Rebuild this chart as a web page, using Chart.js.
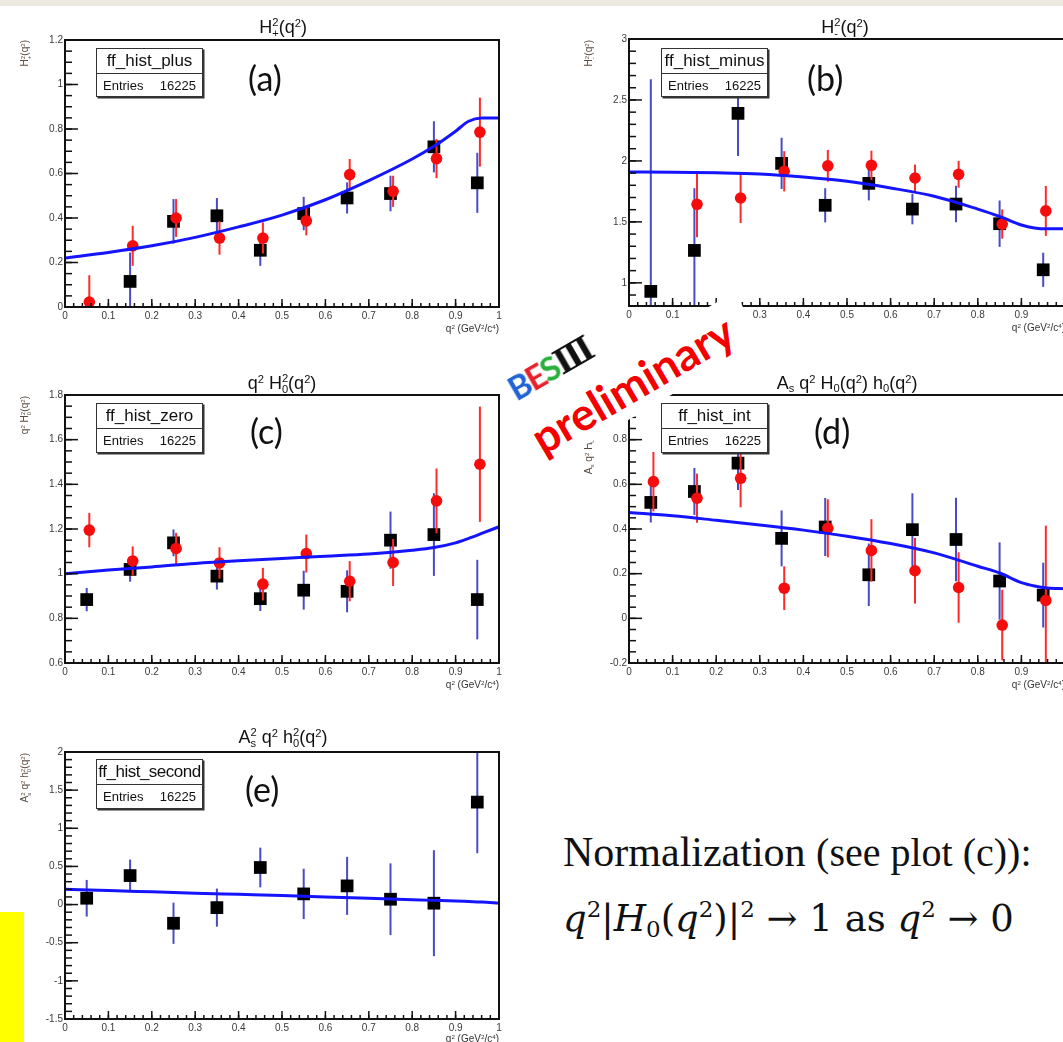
<!DOCTYPE html>
<html>
<head>
<meta charset="utf-8">
<script src="https://cdn.jsdelivr.net/npm/chart.js@4.4.1/dist/chart.umd.min.js"></script>
<style>
  body { margin: 0; width: 1063px; height: 1042px; overflow: hidden; background: #fff; position: relative; font-family: "Liberation Sans", Arial, sans-serif; }
  #topbar { position: absolute; left: 0; top: 0; width: 1063px; height: 6px; background: #ece9e0; }
  #yellow { position: absolute; left: 0; top: 912px; width: 24px; height: 130px; background: #ffff00; }
  canvas { position: absolute; }
  .title { position: absolute; font-size: 18px; line-height: 22px; color: #111; white-space: nowrap; transform: translateX(-50%); }
  .ss { display: inline-block; vertical-align: -0.35em; font-size: 0.62em; line-height: 0.95; text-align: left; }
  .ss i { display: block; font-style: normal; }
  .up { font-size: 0.62em; vertical-align: 0.55em; }
  .dn { font-size: 0.62em; vertical-align: -0.3em; }
  .ytitle { position: absolute; left: 0; top: 0; font-size: 10px; line-height: 12px; color: #5a4c40; white-space: nowrap; transform-origin: 0 0; }
  .xtitle { position: absolute; font-size: 10px; line-height: 12px; color: #333; white-space: nowrap; transform: translateX(-100%); }
  .stats { position: absolute; background: #fff; border: 1.5px solid #333; box-shadow: 1.5px 1.5px 0 #333; box-sizing: border-box; z-index: 5; }
  .sname { height: 24px; border-bottom: 1px solid #333; font-size: 17px; line-height: 24px; text-align: center; color: #111; white-space: nowrap; overflow: hidden; }
  .sent { display: flex; justify-content: space-between; padding: 0 6px; font-size: 13px; line-height: 23px; color: #111; }
  .plabel { position: absolute; font-family: Lato, sans-serif; font-size: 34px; line-height: 34px; color: #111; }
  #prelim { position: absolute; left: 498px; top: 356px; width: 269px; height: 57px; background: #fff; transform: rotate(-30.3deg); z-index: 4;
            font-family: Lato, sans-serif; font-weight: 700; font-size: 45px; line-height: 57px; color: #f40000; text-align: center; }
  #logo { position: absolute; left: 503px; top: 344px; width: 106px; height: 40px; transform: rotate(-30deg); z-index: 4; white-space: nowrap;
          font-family: Lato, sans-serif; font-weight: 700; font-size: 33px; line-height: 40px; letter-spacing: -2px; }
  #note { position: absolute; left: 563px; top: 831px; color: #111; white-space: nowrap; }
  #note .l1 { font-family: "Liberation Serif", "Times New Roman", serif; font-size: 42px; line-height: 42px; }
  #note .l1 span { font-size: 40px; }
  #note .l2 { font-family: "DejaVu Serif", serif; font-size: 37px; line-height: 38px; margin-top: 26px; }
  #note sup { font-size: 0.62em; vertical-align: 0.6em; line-height: 0; }
  #note sub { font-size: 0.62em; vertical-align: -0.25em; line-height: 0; }
</style>
</head>
<body>
<div id="topbar"></div>
<div id="yellow"></div>

<canvas id="chartA"></canvas>
<canvas id="chartB"></canvas>
<canvas id="chartC"></canvas>
<canvas id="chartD"></canvas>
<canvas id="chartE"></canvas>

<div class="title" style="left:283px;top:12px">H<span class="ss"><i>2</i><i>+</i></span>(q<span class="up">2</span>)</div>
<div class="title" style="left:845px;top:12px">H<span class="ss"><i>2</i><i>-</i></span>(q<span class="up">2</span>)</div>
<div class="title" style="left:282px;top:368px">q<span class="up">2</span> H<span class="ss"><i>2</i><i>0</i></span>(q<span class="up">2</span>)</div>
<div class="title" style="left:847px;top:368px">A<span class="dn">s</span> q<span class="up">2</span> H<span class="dn">0</span>(q<span class="up">2</span>) h<span class="dn">0</span>(q<span class="up">2</span>)</div>
<div class="title" style="left:283px;top:722px">A<span class="ss"><i>2</i><i>s</i></span> q<span class="up">2</span> h<span class="ss"><i>2</i><i>0</i></span>(q<span class="up">2</span>)</div>

<div class="ytitle" style="transform:translate(17px,40px) rotate(-90deg) translateX(-100%)">H<span class="ss"><i>2</i><i>+</i></span>(q<span class="up">2</span>)</div>
<div class="ytitle" style="transform:translate(581px,40px) rotate(-90deg) translateX(-100%)">H<span class="ss"><i>2</i><i>-</i></span>(q<span class="up">2</span>)</div>
<div class="ytitle" style="transform:translate(17px,396px) rotate(-90deg) translateX(-100%)">q<span class="up">2</span> H<span class="ss"><i>2</i><i>0</i></span>(q<span class="up">2</span>)</div>
<div class="ytitle" style="transform:translate(581px,396px) rotate(-90deg) translateX(-100%)">A<span class="dn">s</span> q<span class="up">2</span> H<span class="dn">0</span>(q<span class="up">2</span>) h<span class="dn">0</span>(q<span class="up">2</span>)</div>
<div class="ytitle" style="transform:translate(17px,753px) rotate(-90deg) translateX(-100%)">A<span class="ss"><i>2</i><i>s</i></span> q<span class="up">2</span> h<span class="ss"><i>2</i><i>0</i></span>(q<span class="up">2</span>)</div>

<div class="xtitle" style="left:499px;top:321px">q<span class="up">2</span> (GeV<span class="up">2</span>/c<span class="up">4</span>)</div>
<div class="xtitle" style="left:1065px;top:320px">q<span class="up">2</span> (GeV<span class="up">2</span>/c<span class="up">4</span>)</div>
<div class="xtitle" style="left:499px;top:677px">q<span class="up">2</span> (GeV<span class="up">2</span>/c<span class="up">4</span>)</div>
<div class="xtitle" style="left:1065px;top:677px">q<span class="up">2</span> (GeV<span class="up">2</span>/c<span class="up">4</span>)</div>
<div class="xtitle" style="left:499px;top:1031px">q<span class="up">2</span> (GeV<span class="up">2</span>/c<span class="up">4</span>)</div>

<div class="stats" style="left:96px;top:48px;width:107px;height:49px"><div class="sname">ff_hist_plus</div><div class="sent"><span>Entries</span><span>16225</span></div></div>
<div class="stats" style="left:661px;top:48px;width:107px;height:49px"><div class="sname">ff_hist_minus</div><div class="sent"><span>Entries</span><span>16225</span></div></div>
<div class="stats" style="left:96px;top:403px;width:107px;height:50px"><div class="sname">ff_hist_zero</div><div class="sent"><span>Entries</span><span>16225</span></div></div>
<div class="stats" style="left:661px;top:403px;width:107px;height:50px"><div class="sname">ff_hist_int</div><div class="sent"><span>Entries</span><span>16225</span></div></div>
<div class="stats" style="left:96px;top:759px;width:107px;height:50px"><div class="sname" style="letter-spacing:-0.5px">ff_hist_second</div><div class="sent"><span>Entries</span><span>16225</span></div></div>

<div class="plabel" style="left:248px;top:61px">(a)</div>
<div class="plabel" style="left:807px;top:61px">(b)</div>
<div class="plabel" style="left:250px;top:414px">(c)</div>
<div class="plabel" style="left:814px;top:414px">(d)</div>
<div class="plabel" style="left:245px;top:772px">(e)</div>

<div id="logo"><span style="color:#1f63d6">B</span><span style="color:#e8202a">E</span><span style="color:#27b03a">S</span><span style="color:#111;font-family:'DejaVu Serif',serif;letter-spacing:0">Ⅲ</span></div>
<div id="prelim">preliminary</div>

<div id="note">
  <div class="l1">Normalization <span>(see plot (c)):</span></div>
  <div class="l2"><i>q</i><sup>2</sup>|<i>H</i><sub>0</sub>(<i>q</i><sup>2</sup>)|<sup>2</sup> → 1 as <i>q</i><sup>2</sup> → 0</div>
</div>

<script>
// bin centres and tick labels
const xBins = [0.05, 0.15, 0.25, 0.35, 0.45, 0.55, 0.65, 0.75, 0.85, 0.95];
const redBins = [0.056, 0.156, 0.256, 0.356, 0.456, 0.556, 0.656, 0.756, 0.856, 0.956];
const curveX = [0, 0.1, 0.2, 0.3, 0.4, 0.5, 0.6, 0.7, 0.8, 0.85, 0.9, 0.93, 0.96, 1];
const xTicks = [0, 0.1, 0.2, 0.3, 0.4, 0.5, 0.6, 0.7, 0.8, 0.9, 1];

// (a) ff_hist_plus
const plusBlack = [null, 0.115, 0.385, 0.41, 0.255, 0.42, 0.49, 0.51, 0.72, 0.558];
const plusBlackErr = [0, 0.13, 0.1, 0.08, 0.07, 0.075, 0.07, 0.08, 0.115, 0.135];
const plusRed = [0.0225, 0.275, 0.4, 0.31, 0.31, 0.387, 0.595, 0.52, 0.667, 0.786];
const plusRedErr = [0.12, 0.09, 0.085, 0.075, 0.07, 0.065, 0.07, 0.07, 0.088, 0.155];
const plusCurve = [0.22, 0.245, 0.275, 0.313, 0.36, 0.413, 0.482, 0.568, 0.665, 0.722, 0.79, 0.835, 0.85, 0.85];
const plusTicks = [0, 0.2, 0.4, 0.6, 0.8, 1, 1.2];

// (b) ff_hist_minus
const minusBlack = [0.93, 1.266, 2.39, 1.98, 1.636, 1.816, 1.605, 1.646, 1.485, 1.107];
const minusBlackErr = [1.74, 0.51, 0.35, 0.21, 0.14, 0.14, 0.125, 0.15, 0.19, 0.14];
const minusRed = [null, 1.644, 1.696, 1.915, 1.96, 1.964, 1.86, 1.89, 1.482, 1.59];
const minusRedErr = [0, 0.27, 0.205, 0.165, 0.13, 0.12, 0.11, 0.11, 0.12, 0.205];
const minusCurve = [1.91, 1.908, 1.903, 1.893, 1.868, 1.833, 1.778, 1.71, 1.605, 1.545, 1.474, 1.45, 1.443, 1.443];
const minusTicks = [1, 1.5, 2, 2.5, 3];

// (c) ff_hist_zero
const zeroBlack = [0.884, 1.019, 1.138, 0.989, 0.888, 0.926, 0.921, 1.15, 1.175, 0.884];
const zeroBlackErr = [0.052, 0.055, 0.06, 0.06, 0.055, 0.087, 0.094, 0.128, 0.185, 0.178];
const zeroRed = [1.195, 1.057, 1.113, 1.048, 0.953, 1.09, 0.966, 1.05, 1.326, 1.49];
const zeroRedErr = [0.077, 0.065, 0.07, 0.07, 0.073, 0.085, 0.09, 0.105, 0.145, 0.258];
const zeroCurve = [1.0, 1.016, 1.03, 1.046, 1.058, 1.068, 1.078, 1.088, 1.105, 1.117, 1.138, 1.158, 1.18, 1.21];
const zeroTicks = [0.6, 0.8, 1, 1.2, 1.4, 1.6, 1.8];

// (d) ff_hist_int
const intBlack = [0.519, 0.568, 0.695, 0.358, 0.409, 0.195, 0.397, 0.353, 0.167, 0.104];
const intBlackErr = [0.09, 0.105, 0.12, 0.125, 0.13, 0.14, 0.163, 0.187, 0.173, 0.145];
const intRed = [0.612, 0.538, 0.627, 0.135, 0.403, 0.304, 0.213, 0.138, -0.03, 0.08];
const intRedErr = [0.133, 0.11, 0.13, 0.098, 0.13, 0.14, 0.147, 0.158, 0.158, 0.335];
const intCurve = [0.474, 0.459, 0.439, 0.418, 0.395, 0.368, 0.335, 0.293, 0.233, 0.203, 0.16, 0.145, 0.136, 0.132];
const intTicks = [-0.2, 0, 0.2, 0.4, 0.6, 0.8, 1];

// (e) ff_hist_second
const secondBlack = [0.083, 0.38, -0.245, -0.04, 0.486, 0.14, 0.245, 0.07, 0.018, 1.343];
const secondBlackErr = [0.24, 0.21, 0.27, 0.25, 0.26, 0.33, 0.38, 0.47, 0.695, 0.67];
const secondCurve = [0.2, 0.184, 0.167, 0.15, 0.134, 0.118, 0.1, 0.082, 0.064, 0.055, 0.046, 0.04, 0.034, 0.02];
const secondTicks = [-1.5, -1, -0.5, 0, 0.5, 1, 1.5, 2];

// ROOT look: error bars, frame, inward ticks
const rootFrame = {
  id: "rootFrame",
  beforeDatasetDraw(chart, args) {
    const ds = chart.data.datasets[args.index];
    if (!ds.errors) return;
    const { ctx, chartArea: a, scales: { x, y } } = chart;
    ctx.save();
    ctx.beginPath();
    ctx.rect(a.left, a.top, a.right - a.left, a.bottom - a.top);
    ctx.clip();
    ctx.strokeStyle = ds.errorColor;
    ctx.lineWidth = 2;
    ds.data.forEach((p, i) => {
      if (p.y == null) return;
      const px = x.getPixelForValue(p.x);
      ctx.beginPath();
      ctx.moveTo(px, y.getPixelForValue(p.y - ds.errors[i]));
      ctx.lineTo(px, y.getPixelForValue(p.y + ds.errors[i]));
      ctx.stroke();
    });
    ctx.restore();
  },
  afterDatasetsDraw(chart, args, opts) {
    const { ctx, chartArea: a, scales: { x, y } } = chart;
    ctx.save();
    ctx.strokeStyle = "#111";
    ctx.lineWidth = 1.5;
    // minor ticks
    const n0 = Math.ceil(y.min / opts.yMinor - 1e-6), n1 = Math.floor(y.max / opts.yMinor + 1e-6);
    for (let n = n0; n <= n1; n++) {
      const py = y.getPixelForValue(n * opts.yMinor);
      ctx.beginPath(); ctx.moveTo(a.left, py); ctx.lineTo(a.left + 7, py); ctx.stroke();
    }
    for (let n = 0; n <= 50; n++) {
      const px = x.getPixelForValue(n * 0.02);
      ctx.beginPath(); ctx.moveTo(px, a.bottom); ctx.lineTo(px, a.bottom - 4); ctx.stroke();
    }
    // major ticks
    y.ticks.forEach((t) => {
      const py = y.getPixelForValue(t.value);
      ctx.beginPath(); ctx.moveTo(a.left, py); ctx.lineTo(a.left + 13, py); ctx.stroke();
    });
    x.ticks.forEach((t) => {
      const px = x.getPixelForValue(t.value);
      ctx.beginPath(); ctx.moveTo(px, a.bottom); ctx.lineTo(px, a.bottom - 8); ctx.stroke();
    });
    ctx.lineWidth = 2;
    ctx.strokeRect(a.left, a.top, a.right - a.left, a.bottom - a.top);
    ctx.restore();
  },
};

function makePanel(id, box, yMin, yMax, yTicks, yMinor, black, blackErr, red, redErr, curve) {
  const cv = document.getElementById(id);
  const w = box.r - box.l + 60, h = box.b - box.t + 35;
  cv.width = w; cv.height = h;
  cv.style.left = box.l - 50 + "px";
  cv.style.top = box.t - 10 + "px";
  cv.style.width = w + "px";
  cv.style.height = h + "px";

  const datasets = [
    {
      data: curveX.map((x, i) => ({ x, y: curve[i] })),
      showLine: true, borderColor: "#1414ff", borderWidth: 3, pointRadius: 0,
      cubicInterpolationMode: "monotone", order: 0,
    },
  ];
  if (red) {
    datasets.push({
      data: redBins.map((x, i) => ({ x, y: red[i] })),
      errors: redErr, errorColor: "#ff2a2a",
      pointStyle: "circle", pointRadius: 5.8, pointBorderWidth: 0,
      backgroundColor: "#f50d0d", order: 1,
    });
  }
  datasets.push({
    data: xBins.map((x, i) => ({ x, y: black[i] })),
    errors: blackErr, errorColor: "#4a4ac4",
    pointStyle: "rect", pointRadius: 9, pointBorderWidth: 0,
    backgroundColor: "#000", order: 2,
  });

  const tickFont = { family: "Liberation Sans", size: 10 };
  new Chart(cv.getContext("2d"), {
    type: "scatter",
    data: { datasets },
    options: {
      responsive: false,
      animation: false,
      layout: { padding: { left: 0, top: 10, right: 10, bottom: 0 } },
      plugins: { legend: { display: false }, tooltip: { enabled: false }, rootFrame: { yMinor } },
      scales: {
        x: {
          type: "linear", min: 0, max: 1,
          grid: { display: false, drawTicks: false }, border: { display: false },
          afterBuildTicks: (s) => { s.ticks = xTicks.map((v) => ({ value: v })); },
          afterFit: (s) => { s.height = 25; },
          ticks: { autoSkip: false, maxRotation: 0, padding: 3, color: "#3a3a3a", font: tickFont, callback: (v) => String(v) },
        },
        y: {
          type: "linear", min: yMin, max: yMax,
          grid: { display: false, drawTicks: false }, border: { display: false },
          afterBuildTicks: (s) => { s.ticks = yTicks.map((v) => ({ value: v })); },
          afterFit: (s) => { s.width = 50; },
          ticks: { autoSkip: false, padding: 2, color: "#3a3a3a", font: tickFont, callback: (v) => String(v) },
        },
      },
    },
    plugins: [rootFrame],
  });
}

makePanel("chartA", { l: 65, t: 40, r: 499, b: 307 }, 0, 1.2, plusTicks, 0.05, plusBlack, plusBlackErr, plusRed, plusRedErr, plusCurve);
makePanel("chartB", { l: 629, t: 39, r: 1065, b: 306 }, 0.81, 3, minusTicks, 0.1, minusBlack, minusBlackErr, minusRed, minusRedErr, minusCurve);
makePanel("chartC", { l: 65, t: 395, r: 499, b: 663 }, 0.6, 1.8, zeroTicks, 0.05, zeroBlack, zeroBlackErr, zeroRed, zeroRedErr, zeroCurve);
makePanel("chartD", { l: 629, t: 395, r: 1065, b: 663 }, -0.2, 1.0, intTicks, 0.05, intBlack, intBlackErr, intRed, intRedErr, intCurve);
makePanel("chartE", { l: 65, t: 752, r: 499, b: 1019 }, -1.5, 2, secondTicks, 0.1, secondBlack, secondBlackErr, null, null, secondCurve);
</script>
</body>
</html>
